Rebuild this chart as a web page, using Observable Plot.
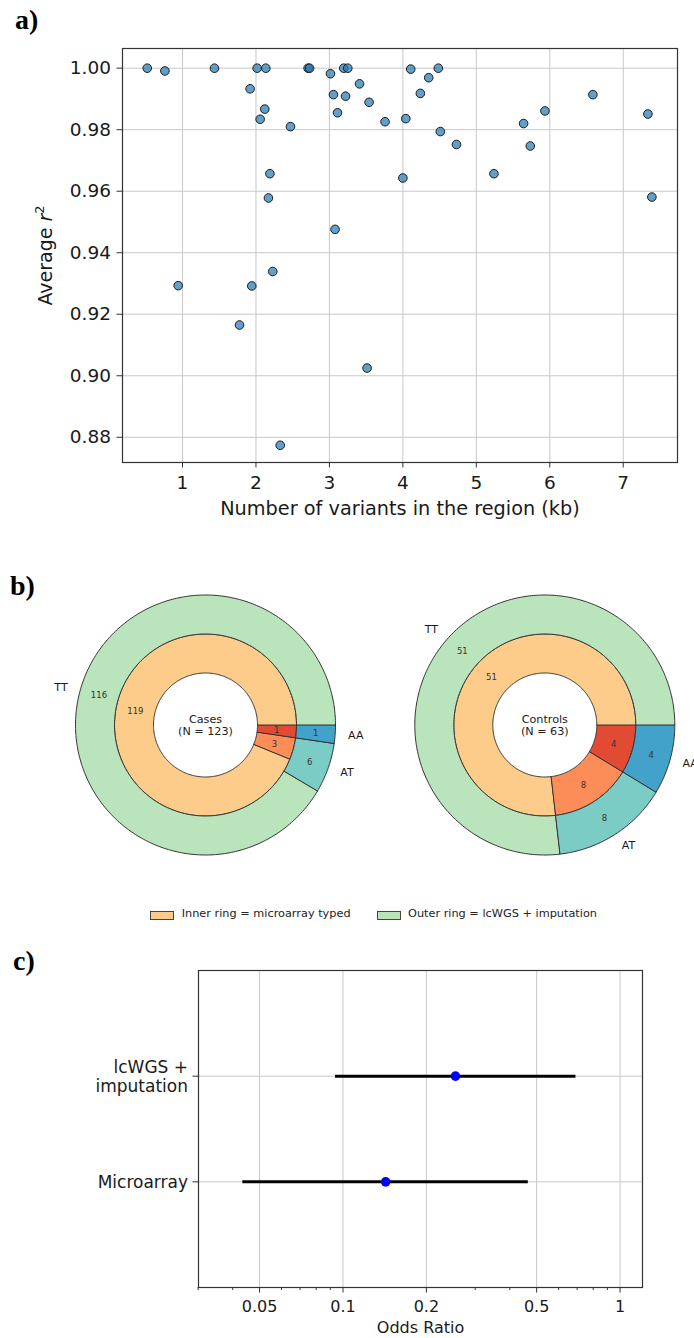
<!DOCTYPE html>
<html>
<head>
<meta charset="utf-8">
<script src="https://cdn.jsdelivr.net/npm/d3@7"></script>
<script src="https://cdn.jsdelivr.net/npm/@observablehq/plot@0.6"></script>
<style>
  html, body { margin: 0; padding: 0; background: white; }
  #root { position: relative; width: 694px; height: 1338px; overflow: hidden; font-family: "DejaVu Sans", sans-serif; }
  .panel { position: absolute; left: 0; }
  .plabel { position: absolute; font-family: "Liberation Serif", "Times New Roman", serif; font-weight: bold; font-size: 28px; line-height: 28px; color: #000; }
  .legend { position: absolute; top: 905px; left: 0; width: 694px; height: 20px; font-size: 11.3px; color: #222; }
  .sw { position: absolute; top: 6px; width: 22px; height: 7px; border: 1px solid #444; }
  .lt { position: absolute; top: 2px; white-space: nowrap; }
</style>
</head>
<body>
<div id="root"></div>
<script>
// ---------------- Panel a data ----------------
const variantsKb = [0.52, 0.76, 1.435, 2.016, 2.134, 2.71, 2.73, 3.014, 3.195, 3.25,
  1.92, 2.12, 2.057, 2.47, 2.19, 2.17, 3.077, 2.229, 3.055, 3.22,
  3.11, 3.41, 3.54, 3.757, 4.107, 4.483, 4.352, 4.238, 4.04, 4.51,
  4.73, 4.0, 5.24, 5.644, 5.735, 5.934, 6.587, 7.336, 7.39, 0.941,
  1.943, 1.776, 3.513, 2.33];
const avgR2 = [1.000, 0.9991, 1.000, 1.000, 1.000, 1.000, 1.000, 0.9982, 1.000, 1.000,
  0.9933, 0.9867, 0.9834, 0.9810, 0.9657, 0.9578, 0.9476, 0.9339, 0.9914, 0.9909,
  0.9855, 0.9949, 0.9889, 0.9826, 0.9997, 1.000, 0.9969, 0.9918, 0.9836, 0.9794,
  0.9752, 0.9643, 0.9657, 0.9820, 0.9747, 0.9861, 0.9914, 0.9851, 0.9581, 0.9293,
  0.9292, 0.9165, 0.9025, 0.8774];
const xTicksA = [1, 2, 3, 4, 5, 6, 7];
const yTicksA = [0.88, 0.90, 0.92, 0.94, 0.96, 0.98, 1.00];

// ---------------- Panel b data ----------------
const genotypes = ["AA", "AT", "TT"];
const casesInner = [1, 3, 119];
const casesOuter = [1, 6, 116];
const controlsInner = [4, 8, 51];
const controlsOuter = [4, 8, 51];
const innerColors = ["#e34a33", "#fc8d59", "#fdcc8a"];
const outerColors = ["#43a2ca", "#7bccc4", "#bae4bc"];
const pieTitles = ["Cases\n(N = 123)", "Controls\n(N = 63)"];
const pseudocount = 2; // wedge angles in the figure correspond to count + 2
const legendLabels = ["Inner ring = microarray typed", "Outer ring = lcWGS + imputation"];

// ---------------- Panel c data ----------------
const methods = ["Microarray", "lcWGS +\nimputation"];
const oddsRatio = [0.1426, 0.2547];
const ciLow = [0.0435, 0.094];
const ciHigh = [0.4665, 0.693];
const xTicksC = [0.05, 0.1, 0.2, 0.5, 1];
const xTickLabelsC = ["0.05", "0.1", "0.2", "0.5", "1"];
const xMinorC = [0.03, 0.04, 0.06, 0.07, 0.08, 0.09, 0.3, 0.4, 0.6, 0.7, 0.8, 0.9];

const root = document.getElementById("root");
const gridStyle = {stroke: "#c8c8c8", strokeOpacity: 1, strokeWidth: 1};
const baseStyle = {fontFamily: "DejaVu Sans", color: "#1a1a1a", background: "white"};

function place(el, top) {
  const d = document.createElement("div");
  d.className = "panel";
  d.style.top = top + "px";
  d.appendChild(el);
  root.appendChild(d);
  return d;
}
function label(txt, left, top) {
  const d = document.createElement("div");
  d.className = "plabel";
  d.style.left = left + "px";
  d.style.top = top + "px";
  d.textContent = txt;
  root.appendChild(d);
}

// ---------------- Panel a ----------------
const scatter = variantsKb.map((x, i) => ({x, y: avgR2[i]}));
const plotA = Plot.plot({
  width: 694, height: 540,
  marginLeft: 122, marginRight: 17, marginTop: 48, marginBottom: 78,
  style: baseStyle,
  x: {domain: [0.183, 7.739]},
  y: {domain: [0.8718, 1.0064]},
  marks: [
    Plot.gridX(xTicksA, gridStyle),
    Plot.gridY(yTicksA, gridStyle),
    Plot.dot(scatter, {x: "x", y: "y", r: 4.3, fill: "#1f77b4", fillOpacity: 0.7, stroke: "#1a1a1a", strokeWidth: 1}),
    Plot.frame({stroke: "#333", strokeWidth: 1.2}),
    Plot.axisX(xTicksA, {tickSize: 5.5, tickPadding: 8, fontSize: 18.5, label: null, stroke: "#333"}),
    Plot.axisY(yTicksA, {tickFormat: ".2f", tickSize: 5.5, tickPadding: 6, fontSize: 18.5, label: null, stroke: "#333"}),
    Plot.text(["Number of variants in the region (kb)"], {frameAnchor: "bottom", lineAnchor: "middle", textAnchor: "middle", dy: 46, fontSize: 19.3, fill: "#1a1a1a"}),
    Plot.text(["Average r2"], {frameAnchor: "left", lineAnchor: "middle", textAnchor: "middle", dx: -77, rotate: -90, fontSize: 19, fill: "#1a1a1a"})
  ]
});
// make the r italic and the 2 a superscript
plotA.querySelectorAll("text").forEach(t => {
  if (t.textContent === "Average r2") {
    t.textContent = "";
    const ns = "http://www.w3.org/2000/svg";
    const a = document.createElementNS(ns, "tspan"); a.textContent = "Average ";
    const r = document.createElementNS(ns, "tspan"); r.textContent = "r"; r.setAttribute("font-style", "italic");
    const s = document.createElementNS(ns, "tspan"); s.textContent = "2"; s.setAttribute("font-size", "13px"); s.setAttribute("dy", "-0.55em");
    t.append(a, r, s);
  }
});
place(plotA, 0);

// ---------------- Panel b ----------------
const R = 130; // px per unit radius
const cxCases = 0, cxControls = (544.3 - 205) / R;
const polys = [], countLabels = [], genoLabels = [];
function ring(counts, colors, r0, r1, cx, key, withGeno) {
  const sizes = counts.map(c => c + pseudocount);
  const total = d3.sum(sizes);
  let a = 0;
  sizes.forEach((s, i) => {
    const a0 = a, a1 = a + s / total * 360; a = a1;
    const n = Math.max(2, Math.ceil(a1 - a0));
    const pts = [];
    for (let k = 0; k <= n; k++) { const t = (a0 + (a1 - a0) * k / n) * Math.PI / 180; pts.push([cx + r1 * Math.cos(t), -r1 * Math.sin(t)]); }
    for (let k = n; k >= 0; k--) { const t = (a0 + (a1 - a0) * k / n) * Math.PI / 180; pts.push([cx + r0 * Math.cos(t), -r0 * Math.sin(t)]); }
    pts.forEach(p => polys.push({id: key + i, x: p[0], y: p[1], fill: colors[i]}));
    const m = (a0 + a1) / 2 * Math.PI / 180;
    const rm = (r0 + r1) / 2;
    countLabels.push({x: cx + rm * Math.cos(m), y: -rm * Math.sin(m), text: String(counts[i])});
    if (withGeno) genoLabels.push({x: cx + 1.1 * Math.cos(m), y: -1.1 * Math.sin(m), text: genotypes[i], right: Math.cos(m) >= 0});
  });
}
ring(casesInner, innerColors, 0.4, 0.7, cxCases, "ci", false);
ring(casesOuter, outerColors, 0.7, 1.0, cxCases, "co", true);
ring(controlsInner, innerColors, 0.4, 0.7, cxControls, "ki", false);
ring(controlsOuter, outerColors, 0.7, 1.0, cxControls, "ko", true);
const titles = [{x: cxCases, y: 0, text: pieTitles[0]}, {x: cxControls, y: 0, text: pieTitles[1]}];

const plotB = Plot.plot({
  width: 694, height: 350,
  margin: 0,
  style: baseStyle,
  x: {domain: [-205 / R, 489 / R], axis: null},
  y: {domain: [-(350 - 179.5) / R, 179.5 / R], axis: null},
  color: {type: "identity"},
  marks: [
    Plot.line(polys, {x: "x", y: "y", z: "id", fill: "fill", stroke: "#333", strokeWidth: 1, curve: "linear-closed"}),
    Plot.text(countLabels, {x: "x", y: "y", text: "text", fontSize: 8.5, fill: "#333"}),
    Plot.text(genoLabels.filter(d => d.right), {x: "x", y: "y", text: "text", textAnchor: "start", fontSize: 11, fill: "#1a1a1a"}),
    Plot.text(genoLabels.filter(d => !d.right), {x: "x", y: "y", text: "text", textAnchor: "end", fontSize: 11, fill: "#1a1a1a"}),
    Plot.text(titles, {x: "x", y: "y", text: "text", fontSize: 11.2, lineHeight: 1.05, fill: "#222"})
  ]
});
place(plotB, 545);

// legend
const leg = document.createElement("div");
leg.className = "legend";
[[150, 181.7, innerColors[2], legendLabels[0]], [376.7, 408, outerColors[2], legendLabels[1]]].forEach(([sx, tx, c, t]) => {
  const s = document.createElement("div"); s.className = "sw"; s.style.left = sx + "px"; s.style.background = c;
  const l = document.createElement("div"); l.className = "lt"; l.style.left = tx + "px"; l.textContent = t;
  leg.append(s, l);
});
root.appendChild(leg);

// ---------------- Panel c ----------------
const forest = methods.map((m, i) => ({pos: i, or: oddsRatio[i], lo: ciLow[i], hi: ciHigh[i]}));
const tickRows = xTicksC.map((v, i) => ({v, t: xTickLabelsC[i]}));
const plotC = Plot.plot({
  width: 694, height: 403,
  marginLeft: 198, marginRight: 52, marginTop: 35, marginBottom: 51,
  style: baseStyle,
  x: {type: "log", domain: [0.0301, 1.205]},
  y: {domain: [-1, 2]},
  marks: [
    Plot.gridX(xTicksC, gridStyle),
    Plot.gridY([0, 1], gridStyle),
    Plot.ruleY(forest, {y: "pos", x1: "lo", x2: "hi", stroke: "black", strokeWidth: 3}),
    Plot.dot(forest, {x: "or", y: "pos", r: 4.8, fill: "#0000ff", stroke: "none"}),
    Plot.frame({stroke: "#333", strokeWidth: 1.2}),
    Plot.axisX(xTicksC, {tickFormat: () => "", tickSize: 5.5, label: null, stroke: "#333"}),
    Plot.axisX(xMinorC, {tickFormat: () => "", tickSize: 3, label: null, stroke: "#333"}),
    Plot.text(tickRows, {x: "v", text: "t", frameAnchor: "bottom", lineAnchor: "top", textAnchor: "middle", dy: 13, fontSize: 16, fill: "#1a1a1a"}),
    Plot.axisY([0, 1], {tickFormat: d => methods[d], tickSize: 5.5, tickPadding: 5, fontSize: 17, lineHeight: 1.1, label: null, stroke: "#333"}),
    Plot.text(["Odds Ratio"], {frameAnchor: "bottom", lineAnchor: "middle", textAnchor: "middle", dy: 40, fontSize: 16, fill: "#1a1a1a"})
  ]
});
place(plotC, 935);

label("a)", 15, 5.5);
label("b)", 10, 571.5);
label("c)", 13, 946.5);
</script>
</body>
</html>
